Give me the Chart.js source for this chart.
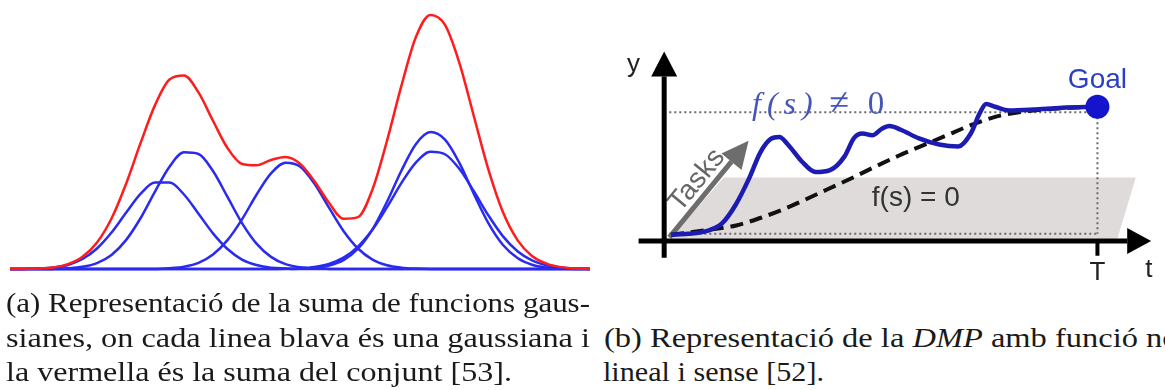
<!DOCTYPE html>
<html>
<head>
<meta charset="utf-8">
<script src="https://cdn.jsdelivr.net/npm/chart.js@4.4.1/dist/chart.umd.min.js"></script>
<style>
  html, body { margin: 0; padding: 0; background: #fff; }
  body { width: 1165px; height: 390px; position: relative; overflow: hidden; }
  canvas { position: absolute; }
  #gauss { left: 10px; top: 0; }
  #dmp { left: 590px; top: 0; }
  .cap { position: absolute; font-family: 'Liberation Serif', serif; font-size: 28px; line-height: 28px;
         color: #1a1a1a; white-space: nowrap; transform-origin: 0 0; }
</style>
</head>
<body>
<canvas id="gauss" width="580" height="280"></canvas>
<canvas id="dmp" width="575" height="300"></canvas>

<div class="cap" data-w="584" style="left:6px; top:288.5px;"><span>(a) Representació de la suma de funcions gaus-</span></div>
<div class="cap" data-w="584" style="left:6px; top:323.5px;"><span>sianes, on cada linea blava és una gaussiana i</span></div>
<div class="cap" data-w="506" style="left:6px; top:357.5px;"><span>la vermella és la suma del conjunt [53].</span></div>
<div class="cap" data-k="1.16" style="left:604px; top:323.5px;"><span>(b) Representació de la <i>DMP</i> amb funció no</span></div>
<div class="cap" data-w="221" style="left:603px; top:357.5px;"><span>lineal i sense [52].</span></div>

<script>
// --- (a) suma de gaussianes: valors llegits de la figura ---
const xs = [0, 2.5, 5, 7.5, 10, 12.5, 15, 17.5, 20, 22.5, 25, 27.5, 30, 32.5, 35, 37.5, 40, 42.5, 45, 47.5,
            50, 52.5, 55, 57.5, 60, 62.5, 65, 67.5, 70, 72.5, 75, 77.5, 80, 82.5, 85, 87.5, 90, 92.5, 95, 97.5, 100];

const gauss1 = [0, 0.05, 0.17, 0.55, 1.5, 3.7, 7.6, 13.5, 20.8, 27.8, 32.0, 32.0, 27.6, 20.5, 13.2, 7.4, 3.5, 1.5, 0.5, 0.2,
                0, 0, 0, 0, 0, 0, 0, 0, 0, 0, 0, 0, 0, 0, 0, 0, 0, 0, 0, 0, 0];
const gauss2 = [0, 0, 0, 0.05, 0.26, 0.8, 2.2, 5.2, 10.7, 18.8, 28.7, 37.9, 43.2, 42.6, 36.3, 26.7, 17.0, 9.4, 4.5, 1.8,
                0.65, 0.2, 0.05, 0, 0, 0, 0, 0, 0, 0, 0, 0, 0, 0, 0, 0, 0, 0, 0, 0, 0];
const gauss3 = [0, 0, 0, 0, 0, 0, 0, 0, 0, 0, 0, 0.28, 0.87, 2.3, 5.4, 10.7, 18.4, 27.5, 35.4, 39.4,
                38.0, 31.6, 22.7, 14.1, 7.6, 3.5, 1.4, 0.5, 0.15, 0, 0, 0, 0, 0, 0, 0, 0, 0, 0, 0, 0];
const gauss4 = [0, 0, 0, 0, 0, 0, 0, 0, 0, 0, 0, 0, 0, 0, 0, 0, 0, 0, 0, 0,
                0.12, 0.42, 1.3, 3.3, 7.5, 14.7, 24.9, 36.5, 46.3, 50.7, 47.9, 39.2, 27.7, 16.9, 8.9, 4.1, 1.6, 0.55, 0.16, 0, 0];
const gauss5 = [0, 0, 0, 0, 0, 0, 0, 0, 0, 0, 0, 0, 0, 0, 0, 0, 0, 0, 0, 0.08,
                0.27, 0.76, 1.9, 4.2, 8.3, 14.6, 22.9, 31.9, 39.5, 43.4, 42.5, 37.0, 28.7, 19.8, 12.1, 6.6, 3.2, 1.4, 0.53, 0.18, 0.05];
const total  = [0, 0.05, 0.17, 0.6, 1.8, 4.5, 9.8, 18.7, 31.5, 46.6, 60.7, 70.2, 71.7, 65.4, 54.9, 44.8, 38.9, 38.4, 40.4, 41.5,
                39.0, 32.5, 24.5, 18.6, 19.2, 29.5, 47.5, 68.0, 86.0, 94.1, 90.4, 76.2, 56.4, 36.7, 21.0, 10.7, 4.8, 2.0, 0.7, 0.2, 0.05];

const red = 'rgb(255, 28, 28)';
const blue = 'rgb(42, 42, 240)';

function curve(values, color) {
    return {
        data: values,
        borderColor: color,
        borderWidth: 2.5,
        pointRadius: 0,
        cubicInterpolationMode: 'monotone',
        fill: false
    };
}

new Chart(document.getElementById('gauss'), {
    type: 'line',
    data: {
        labels: xs,
        datasets: [
            curve(total, red),
            curve(gauss1, blue),
            curve(gauss2, blue),
            curve(gauss3, blue),
            curve(gauss4, blue),
            curve(gauss5, blue)
        ]
    },
    options: {
        responsive: false,
        animation: false,
        devicePixelRatio: 1,
        layout: { padding: 0 },
        plugins: { legend: { display: false }, tooltip: { enabled: false } },
        scales: {
            x: { display: false },
            y: { display: false, min: -4.07, max: 99.63 }
        }
    }
});

// --- (b) DMP: temps normalitzat (0..T=1) i posició normalitzada (0..goal=1) ---
const blueT = [0, 0.04, 0.085, 0.119, 0.151, 0.184, 0.209, 0.234, 0.254, 0.274, 0.308, 0.339, 0.373, 0.407, 0.429, 0.449,
               0.472, 0.494, 0.512, 0.539, 0.58, 0.629, 0.674, 0.703, 0.724, 0.739, 0.76, 0.793, 0.849, 0.917, 1];
const blueY = [0, 0.007, 0.03, 0.086, 0.23, 0.446, 0.64, 0.748, 0.763, 0.705, 0.568, 0.489, 0.504, 0.612, 0.755, 0.791,
               0.777, 0.827, 0.849, 0.82, 0.755, 0.705, 0.69, 0.791, 0.95, 1.022, 1.0, 0.971, 0.978, 0.993, 1];

const dashT = [0, 0.085, 0.153, 0.209, 0.265, 0.31, 0.366, 0.422, 0.479, 0.535, 0.591, 0.647, 0.703, 0.76, 0.816, 0.872, 0.939, 1];
const dashY = [0, 0.036, 0.072, 0.13, 0.2, 0.266, 0.353, 0.439, 0.532, 0.619, 0.698, 0.777, 0.856, 0.921, 0.957, 0.978, 0.993, 1];

const goalT = [1];
const goalY = [1];

const levelT = [-0.004, 1];
const levelY = [0.957, 0.957];
const baseT = [-0.004, 1];
const baseY = [0.007, 0.007];
const dropT = [1, 1];
const dropY = [0.957, 0.007];

const shadeT = [0.124, 1.09, 1.047, -0.004];
const shadeY = [0.446, 0.446, -0.03, -0.03];

function pts(ts, ys) { return ts.map((t, i) => ({ x: t, y: ys[i] })); }

function dotted(ts, ys) {
    return {
        data: pts(ts, ys), showLine: true, pointRadius: 0,
        borderColor: '#6a6a6a', borderWidth: 2, borderDash: [2, 3]
    };
}

function arrow(ctx, x0, y0, x1, y1, color, w, headLen, headHalf) {
    const a = Math.atan2(y1 - y0, x1 - x0);
    const bx = x1 - headLen * Math.cos(a), by = y1 - headLen * Math.sin(a);
    ctx.strokeStyle = color;
    ctx.lineWidth = w;
    ctx.lineCap = 'butt';
    ctx.beginPath();
    ctx.moveTo(x0, y0);
    ctx.lineTo(bx, by);
    ctx.stroke();
    ctx.fillStyle = color;
    ctx.beginPath();
    ctx.moveTo(x1, y1);
    ctx.lineTo(bx + headHalf * Math.sin(a), by - headHalf * Math.cos(a));
    ctx.lineTo(bx - headHalf * Math.sin(a), by + headHalf * Math.cos(a));
    ctx.closePath();
    ctx.fill();
}

const decor = {
    id: 'decor',
    beforeDatasetsDraw(chart) {
        const { ctx, scales: { x, y } } = chart;
        ctx.save();
        // pla gris f(s) = 0
        ctx.beginPath();
        shadeT.forEach((t, i) => {
            const px = x.getPixelForValue(t), py = y.getPixelForValue(shadeY[i]);
            if (i) ctx.lineTo(px, py); else ctx.moveTo(px, py);
        });
        ctx.closePath();
        ctx.fillStyle = '#dfdbda';
        ctx.fill();

        // fletxa Tasks
        const tx0 = x.getPixelForValue(-0.004), ty0 = y.getPixelForValue(-0.022);
        const tx1 = x.getPixelForValue(0.182), ty1 = y.getPixelForValue(0.734);
        arrow(ctx, tx0, ty0, tx1, ty1, '#6d6d6d', 5, 27, 13);
        ctx.translate(x.getPixelForValue(0.061), y.getPixelForValue(0.425));
        ctx.rotate(Math.atan2(ty1 - ty0, tx1 - tx0));
        ctx.font = '28px "Liberation Sans", Arial, sans-serif';
        ctx.fillStyle = '#666';
        ctx.textAlign = 'center';
        ctx.textBaseline = 'middle';
        ctx.fillText('Tasks', 0, 0);
        ctx.restore();
    },
    afterDatasetsDraw(chart) {
        const { ctx, scales: { x, y } } = chart;
        ctx.save();
        const ax = y.getPixelForValue(-0.05);
        const ay = x.getPixelForValue(-0.016);
        arrow(ctx, x.getPixelForValue(-0.076), ax, x.getPixelForValue(1.126), ax, '#000', 5, 24, 13);
        arrow(ctx, ay, y.getPixelForValue(-0.18), ay, y.getPixelForValue(1.432), '#000', 5, 25, 13);
        // marca T
        ctx.strokeStyle = '#000';
        ctx.lineWidth = 4;
        ctx.beginPath();
        ctx.moveTo(x.getPixelForValue(1), ax);
        ctx.lineTo(x.getPixelForValue(1), y.getPixelForValue(-0.165));
        ctx.stroke();

        ctx.textBaseline = 'middle';
        ctx.font = '26px "Liberation Sans", Arial, sans-serif';
        ctx.fillStyle = '#222';
        ctx.textAlign = 'center';
        ctx.fillText('y', x.getPixelForValue(-0.088), y.getPixelForValue(1.324));
        ctx.fillText('T', x.getPixelForValue(1), y.getPixelForValue(-0.302));
        ctx.textAlign = 'left';
        ctx.fillText('t', x.getPixelForValue(1.112), y.getPixelForValue(-0.273));

        ctx.textAlign = 'center';
        ctx.font = '28px "Liberation Sans", Arial, sans-serif';
        ctx.fillStyle = '#2b3fc4';
        ctx.fillText('Goal', x.getPixelForValue(1), y.getPixelForValue(1.209));

        ctx.fillStyle = '#333';
        ctx.fillText('f(s) = 0', x.getPixelForValue(0.574), y.getPixelForValue(0.288));

        // f(s) ≠ 0
        ctx.fillStyle = '#4656b8';
        ctx.textBaseline = 'alphabetic';
        ctx.textAlign = 'left';
        ctx.font = 'italic 32px "Liberation Serif", serif';
        ctx.letterSpacing = '6px';
        ctx.fillText('f(s)', x.getPixelForValue(0.19), y.getPixelForValue(0.942));
        ctx.letterSpacing = '0px';
        ctx.textAlign = 'center';
        ctx.font = '36px "Liberation Serif", serif';
        ctx.fillText('\u2260', x.getPixelForValue(0.395), y.getPixelForValue(0.942));
        ctx.font = '33px "Liberation Serif", serif';
        ctx.fillText('0', x.getPixelForValue(0.481), y.getPixelForValue(0.942));
        ctx.restore();
    }
};

new Chart(document.getElementById('dmp'), {
    type: 'scatter',
    data: {
        datasets: [
            { data: pts(goalT, goalY), pointRadius: 12, pointBackgroundColor: '#1414cc', pointBorderWidth: 0 },
            {
                data: pts(blueT, blueY), showLine: true, pointRadius: 0,
                borderColor: '#1c1cb2', borderWidth: 4.5, cubicInterpolationMode: 'monotone'
            },
            {
                data: pts(dashT, dashY), showLine: true, pointRadius: 0,
                borderColor: '#111', borderWidth: 4, borderDash: [13, 7], cubicInterpolationMode: 'monotone'
            },
            dotted(levelT, levelY),
            dotted(baseT, baseY),
            dotted(dropT, dropY)
        ]
    },
    options: {
        responsive: false,
        animation: false,
        devicePixelRatio: 1,
        layout: { padding: 0 },
        plugins: { legend: { display: false }, tooltip: { enabled: false } },
        scales: {
            x: { type: 'linear', display: false, min: -0.1618, max: 1.1303 },
            y: { type: 'linear', display: false, min: -0.4173, max: 1.741 }
        }
    },
    plugins: [decor]
});

// ajustar l'amplada dels peus de figura a la del original
document.querySelectorAll('.cap').forEach(d => {
    const nat = d.firstElementChild.getBoundingClientRect().width;
    const k = d.dataset.w ? d.dataset.w / nat : +d.dataset.k;
    d.style.transform = 'scaleX(' + k + ')';
});
</script>
</body>
</html>
